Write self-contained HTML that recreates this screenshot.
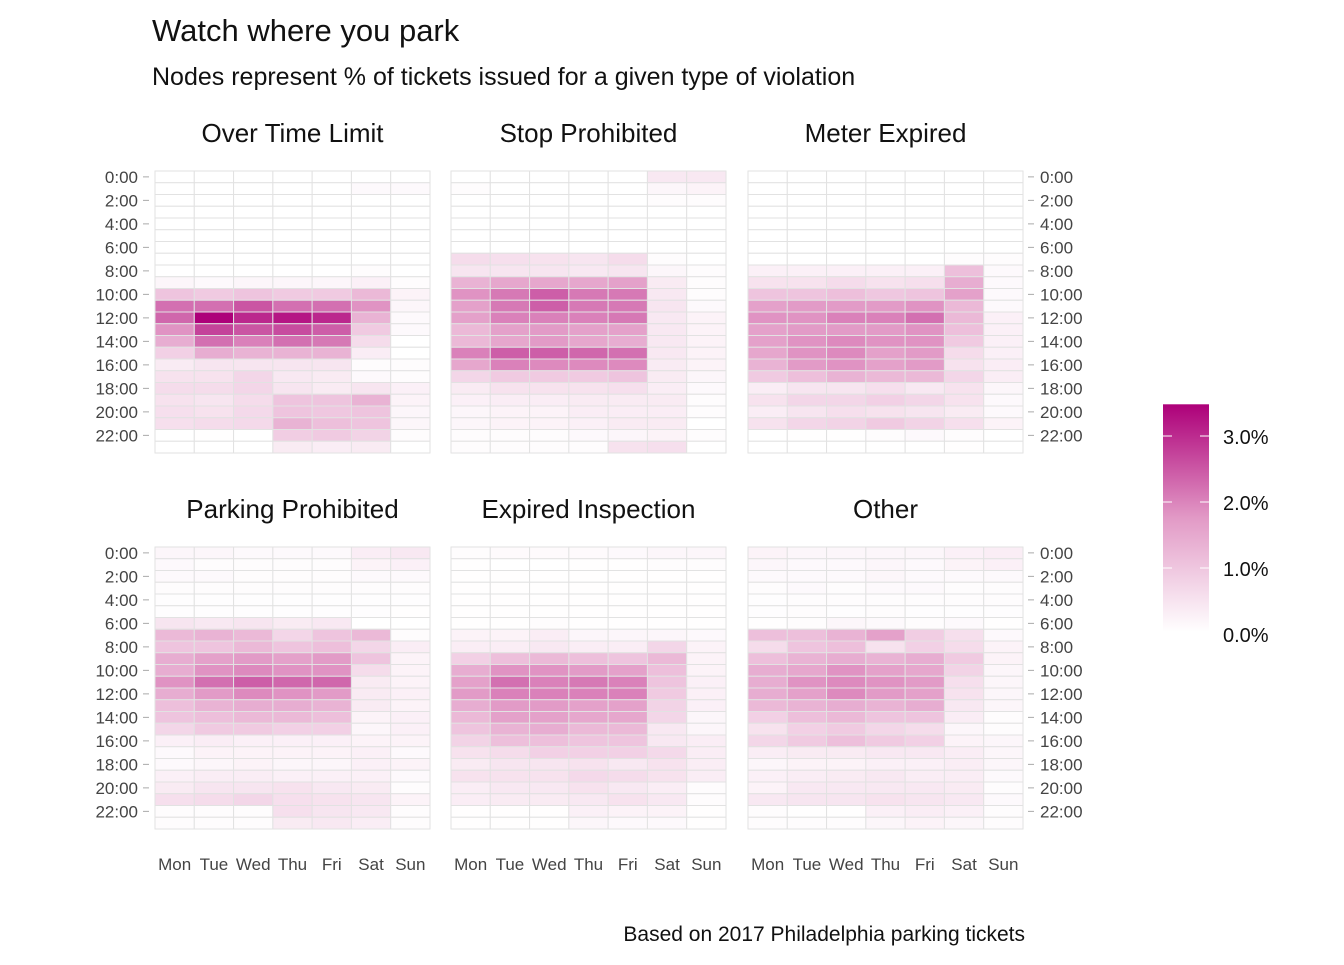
<!DOCTYPE html>
<html><head><meta charset="utf-8"><style>
body{margin:0;background:#fff;}
svg text{font-family:"Liberation Sans","DejaVu Sans",sans-serif;}
</style></head><body>
<svg id="chart" width="1344" height="960" xmlns="http://www.w3.org/2000/svg">
<text x="152" y="41" font-size="31" fill="#111">Watch where you park</text>
<text x="152" y="85" font-size="25" fill="#111">Nodes represent % of tickets issued for a given type of violation</text>
<text x="1025" y="941" font-size="21" fill="#111" text-anchor="end">Based on 2017 Philadelphia parking tickets</text>
<defs><linearGradient id="lg" x1="0" y1="1" x2="0" y2="0">
<stop offset="0" stop-color="#ffffff"/><stop offset="0.5" stop-color="#e29ac6"/><stop offset="1" stop-color="#ad0079"/></linearGradient></defs>
<g id="legend"></g>
<g id="panels"></g>
</svg>
<script>
const days=["Mon","Tue","Wed","Thu","Fri","Sat","Sun"];
const hourTicks=["0:00","2:00","4:00","6:00","8:00","10:00","12:00","14:00","16:00","18:00","20:00","22:00"];
const panelTitles=["Over Time Limit","Stop Prohibited","Meter Expired","Parking Prohibited","Expired Inspection","Other"];
const legendTicks=[0,1,2,3];
const overTime=[
[0,0,0,0,0,0,0],[0,0,0,0,0,.1,.1],[0,0,0,0,0,0,0],[0,0,0,0,0,0,0],[0,0,0,0,0,0,0],[0,0,0,0,0,0,0],
[0,0,0,0,0,0,0],[0,0,0,0,0,0,0],[0,0,0,0,0,.05,0],[.15,.1,.15,.15,.15,.25,.05],
[1.0,.9,1.0,.9,.9,1.2,.2],[2.2,2.2,2.5,2.2,2.2,1.8,.15],[2.3,3.45,3.0,3.2,3.0,1.3,.1],
[1.8,2.7,2.5,2.6,2.4,.9,.1],[1.4,2.2,2.0,2.2,2.1,.6,0],[.8,1.4,1.3,1.3,1.3,.3,0],
[.35,.45,.45,.45,.45,.05,.05],[.5,.5,.7,.4,.35,.1,.05],[.6,.6,.7,.45,.35,.45,.25],
[.5,.45,.6,1.0,1.0,1.3,.2],[.55,.5,.65,1.0,.95,1.0,.15],[.55,.6,.65,1.3,1.1,1.0,.15],
[0,.02,0,.85,.9,.75,.05],[0,0,0,.35,.3,.35,0]];
const stopProhibited=[
[0,0,0,0,0,.4,.4],[.05,0,0,0,0,.15,.2],[0,0,0,0,0,.05,.05],[0,0,0,0,0,0,0],[0,0,0,0,0,0,0],[0,0,0,0,0,0,0],
[0,0,0,0,0,0,0],[.6,.55,.5,.45,.6,.05,0],[.45,.45,.45,.4,.45,.15,.05],[1.3,1.5,1.5,1.5,1.6,.35,.05],
[1.8,2.1,2.4,2.1,2.1,.4,.05],[1.6,2.1,2.4,2.1,2.1,.45,.1],[1.6,2.0,2.0,2.0,2.1,.4,.2],
[1.2,1.6,1.7,1.6,1.6,.4,.2],[1.2,1.5,1.7,1.5,1.4,.4,.2],[2.0,2.4,2.4,2.3,2.2,.4,.2],
[1.5,2.0,1.9,1.9,1.9,.35,.2],[.7,.9,.9,.9,1.0,.35,.15],[.35,.5,.5,.5,.55,.3,.1],
[.25,.3,.3,.35,.35,.35,.05],[.15,.2,.2,.3,.3,.3,.05],[.15,.2,.2,.25,.35,.35,0],
[.05,.05,.05,.1,.15,.2,.05],[.05,.05,.05,.05,.5,.55,0]];
const meterExpired=[
[0,0,0,0,0,0,0],[0,0,0,0,0,0,0],[0,0,0,0,0,0,0],[0,0,0,0,0,0,0],[0,0,0,0,0,0,0],[0,0,0,0,0,0,0],
[0,0,0,0,0,0,0],[0,0,0,0,0,.05,.05],[.25,.25,.25,.25,.25,1.1,.1],[.5,.5,.6,.5,.55,1.4,.1],
[1.0,1.0,1.1,.95,1.0,1.6,.1],[1.6,1.7,1.7,1.7,1.8,1.2,.1],[1.8,1.8,2.0,2.0,2.2,1.2,.25],
[1.6,1.7,1.7,1.7,1.8,1.1,.25],[1.6,1.8,1.9,1.8,1.8,.9,.25],[1.5,1.8,1.9,1.6,1.7,.6,.25],
[1.3,1.7,1.8,1.6,1.7,.5,.3],[.9,1.1,1.3,1.2,1.2,.7,.3],[.3,.45,.45,.55,.4,.5,.15],
[.5,.7,.7,.8,.7,.5,.1],[.3,.45,.55,.5,.45,.35,.1],[.5,.7,.75,.9,.75,.55,.2],
[0,.02,.02,.05,.1,.05,0],[0,0,0,0,0,.02,0]];
const parkingProhibited=[
[.15,.15,.1,.1,.1,.3,.4],[.1,.05,.05,.05,.05,.2,.25],[.1,.1,.05,.05,.05,.1,.1],[.05,.05,.05,.05,.05,.05,.05],
[.03,.03,.03,.03,.03,.03,.03],[.03,.03,.03,.03,.03,.03,.02],[.45,.4,.45,.35,.4,0,0],
[1.2,1.3,1.2,.7,1.0,1.2,.05],[1.0,1.0,1.2,1.0,1.1,.7,.3],[1.4,1.6,1.7,1.6,1.7,1.0,.2],
[1.4,1.8,1.9,1.8,1.8,.6,.2],[1.8,2.2,2.4,2.3,2.3,.35,.2],[1.4,1.7,1.9,1.8,1.7,.35,.25],
[1.1,1.3,1.4,1.4,1.3,.35,.2],[1.0,1.1,1.2,1.2,1.1,.2,.25],[.7,.9,.9,.8,.8,.15,.25],
[.25,.3,.25,.25,.25,.2,.2],[.1,.2,.2,.2,.2,.25,.1],[.1,.15,.2,.15,.15,.25,.2],
[.25,.3,.3,.25,.25,.25,.1],[.35,.45,.45,.5,.4,.35,.05],[.55,.6,.7,.55,.5,.45,.2],
[.05,.05,.05,.55,.45,.4,.05],[.05,.05,.05,.35,.4,.3,.05]];
const expiredInspection=[
[.05,.08,.08,.08,.1,.15,.15],[.02,0,0,.02,.02,.05,.05],[.02,.02,.02,.02,.02,.02,.02],[.02,.02,.02,.02,.02,.02,.02],
[.02,.02,.02,.02,.02,.02,.02],[.02,.02,.02,.02,.02,.02,.02],[.02,.02,.05,.02,.02,.02,.02],
[.2,.2,.3,.15,.15,.15,.1],[.3,.3,.4,.3,.3,.7,.2],[.8,1.1,1.2,1.1,1.0,1.2,.2],
[1.4,1.8,1.8,1.7,1.6,1.1,.2],[1.6,2.2,2.0,2.1,2.0,1.0,.25],[1.7,2.0,2.0,2.0,2.0,.9,.25],
[1.4,1.7,1.7,1.6,1.6,.75,.25],[1.2,1.6,1.6,1.5,1.5,.7,.15],[1.0,1.3,1.4,1.2,1.2,.4,.15],
[.75,1.1,1.1,1.0,1.0,.4,.3],[.5,.6,.8,.8,.8,.65,.3],[.35,.45,.45,.5,.4,.5,.3],
[.5,.5,.5,.65,.6,.5,.3],[.3,.4,.4,.5,.4,.3,.05],[.3,.35,.35,.4,.5,.4,.05],
[.02,.02,.02,.25,.2,.2,.02],[.02,.02,.02,.15,.1,.1,.02]];
const other=[
[.2,.15,.15,.15,.15,.25,.3],[.15,.1,.1,.15,.1,.2,.25],[.1,.1,.1,.15,.1,.1,.1],[.05,.1,.05,.1,.1,.05,.05],
[.03,.05,.05,.05,.05,.05,.05],[.03,.05,.03,.05,.03,.03,.03],[.02,.05,.15,.1,.05,.1,.02],
[1.1,1.1,1.3,1.6,.85,.55,.1],[.6,1.0,1.1,.5,.8,.6,.2],[1.1,1.3,1.4,1.3,1.4,.9,.2],
[1.4,1.5,1.8,1.6,1.5,.75,.15],[1.4,1.8,1.9,1.8,1.7,.55,.15],[1.4,1.6,1.9,1.7,1.6,.5,.15],
[1.2,1.3,1.4,1.3,1.4,.4,.15],[.8,1.1,1.2,1.0,1.0,.3,.05],[.5,.8,.9,.7,.6,.15,.05],
[.7,.9,1.1,.9,.8,.2,.15],[.3,.35,.35,.4,.4,.3,.15],[.15,.2,.2,.25,.25,.3,.15],
[.25,.3,.35,.4,.3,.3,.1],[.2,.4,.4,.4,.4,.35,.05],[.4,.45,.45,.5,.45,.4,.1],
[.05,.02,.02,.25,.3,.25,.05],[.05,.05,.05,.15,.2,.15,.05]];
const panelData=[overTime,stopProhibited,meterExpired,parkingProhibited,expiredInspection,other];

const NS="http://www.w3.org/2000/svg";
const VMAX=3.45;
function lerp(a,b,t){return a+(b-a)*t;}
function color(v){const t=Math.max(0,Math.min(1,v/VMAX));
 let r,g,b;
 if(t<0.5){const u=t/0.5;r=lerp(255,226,u);g=lerp(255,154,u);b=lerp(255,198,u);}
 else{const u=(t-0.5)/0.5;r=lerp(226,173,u);g=lerp(154,0,u);b=lerp(198,121,u);}
 return `rgb(${Math.round(r)},${Math.round(g)},${Math.round(b)})`;}
function mk(tag,attrs,parent){const e=document.createElementNS(NS,tag);for(const k in attrs)e.setAttribute(k,attrs[k]);parent.appendChild(e);return e;}
const PX=[155,451,748],PY=[171,547],PW=275,PH=282;
const root=document.getElementById('panels');
panelData.forEach((data,p)=>{
 const px=PX[p%3],py=PY[Math.floor(p/3)];
 const cw=PW/days.length,rh=PH/data.length;
 const xS=i=>px+i*cw, yS=h=>py+h*rh;
 const g=mk('g',{},root);
 
 
 const t=mk('text',{x:px+PW/2,y:py-29,'font-size':26,'text-anchor':'middle',fill:'#111'},g);
 t.textContent=panelTitles[p];
 
 
 data.forEach((row,h)=>row.forEach((v,d)=>{
  const r=mk('rect',{x:xS(d),y:yS(h),width:cw,height:rh,fill:color(v),stroke:'#e2e2e2','stroke-width':1},g);
  
  
 }));
 const col=p%3;
 if(col!==1){
  hourTicks.forEach((lab,i)=>{
   const y=yS(i*2)+rh/2;
   if(col===0){mk('line',{x1:px-12,x2:px-6,y1:y,y2:y,stroke:'#aaa'},g);
    const tx=mk('text',{x:px-17,y:y+6,'font-size':17,'text-anchor':'end',fill:'#444'},g);tx.textContent=lab;
    
    }
   else{mk('line',{x1:px+PW+5,x2:px+PW+11,y1:y,y2:y,stroke:'#aaa'},g);
    const tx=mk('text',{x:px+PW+17,y:y+6,'font-size':17,fill:'#444'},g);tx.textContent=lab;
    
    }
  });
 }
 if(p>=3){days.forEach((d,i)=>{
  const tx=mk('text',{x:xS(i)+cw/2,y:870,'font-size':17,'text-anchor':'middle',fill:'#444'},g);tx.textContent=d;
  
  });}
});
const lg=document.getElementById('legend');
const L0=632,LPX=66;
mk('rect',{x:1163,y:L0-VMAX*LPX,width:46,height:VMAX*LPX,fill:'url(#lg)'},lg);
legendTicks.forEach(v=>{const y=L0-v*LPX+2;
 mk('line',{x1:1163,x2:1172,y1:y,y2:y,stroke:'#fff','stroke-width':1},lg);
 mk('line',{x1:1200,x2:1209,y1:y,y2:y,stroke:'#fff','stroke-width':1},lg);
 const tx=mk('text',{x:1223,y:y+8,'font-size':20,fill:'#111'},lg);tx.textContent=v.toFixed(1)+'%';
 
 });
</script>
</body></html>
